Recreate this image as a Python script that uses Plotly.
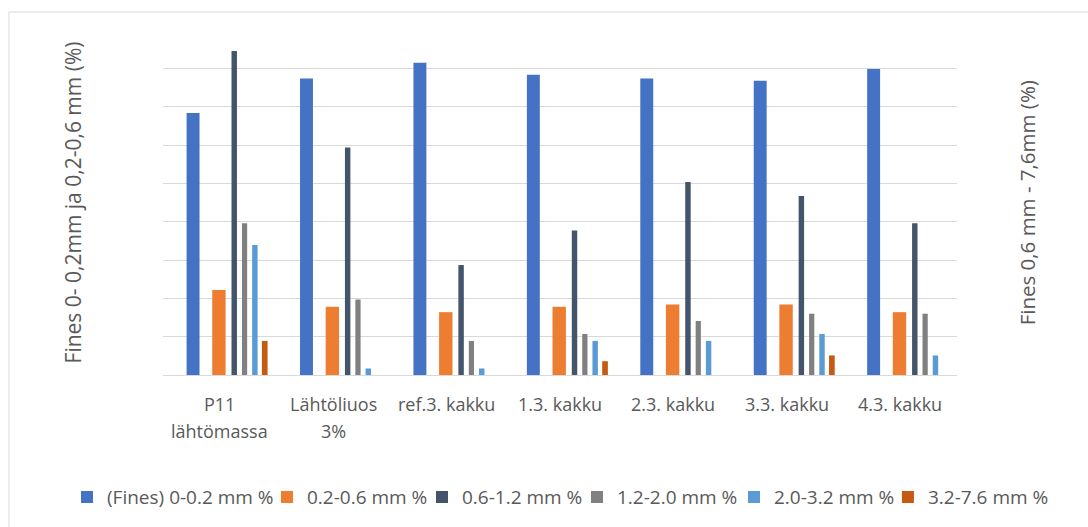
import plotly.graph_objects as go

# Sample categories (line breaks mark two-line labels)
categories = ["P11<br>lähtömassa", "Lähtöliuos<br>3%", "ref.3. kakku", "1.3. kakku",
              "2.3. kakku", "3.3. kakku", "4.3. kakku"]

# Primary axis: fines and 0.2-0.6 mm fraction (%)
fines_0_02 = [68.4, 77.4, 81.5, 78.4, 77.4, 76.8, 79.9]
frac_02_06 = [22.2, 17.8, 16.4, 17.8, 18.4, 18.4, 16.4]

# Secondary axis: coarser fractions (%)
frac_06_12 = [8.46, 5.94, 2.87, 3.77, 5.04, 4.67, 3.96]
frac_12_20 = [3.96, 1.97, 0.89, 1.07, 1.41, 1.60, 1.60]
frac_20_32 = [3.39, 0.17, 0.17, 0.89, 0.89, 1.07, 0.51]
frac_32_76 = [0.89, 0.0, 0.0, 0.36, 0.0, 0.51, 0.0]

# name, values, axis, colour, bar offset, bar width, legend entry width, legend id
series = [
    ("(Fines) 0-0.2 mm %", fines_0_02, "y", "#4472C4", -0.292, 0.114, 155, "legend"),
    ("0.2-0.6 mm %", frac_02_06, "y", "#ED7D31", -0.066, 0.118, 110, "legend"),
    ("0.6-1.2 mm %", frac_06_12, "y2", "#44546A", 0.104, 0.048, 110, "legend"),
    ("1.2-2.0 mm %", frac_12_20, "y2", "#808080", 0.196, 0.046, 112, "legend"),
    ("2.0-3.2 mm %", frac_20_32, "y2", "#5B9BD5", 0.286, 0.048, 140, "legend"),
    ("3.2-7.6 mm %", frac_32_76, "y2", "#C55A11", 0.372, 0.050, 140, "legend2"),
]

xs = list(range(len(categories)))

fig = go.Figure()
for name, vals, axis, color, off, w, lw, leg in series:
    fig.add_trace(go.Bar(
        x=xs, y=vals, name=name, yaxis=axis,
        marker=dict(color=color, line=dict(width=0)),
        offset=off, width=w, legendwidth=lw, legend=leg,
    ))

text_color = "#595959"
font_family = "Open Sans, DejaVu Sans, sans-serif"

# Category labels, one annotation per line
annotations = []
for i, label in enumerate(categories):
    for j, line in enumerate(label.split("<br>")):
        annotations.append(dict(
            x=i, y=0, xref="x", yref="paper", yshift=-29 - 27 * j,
            text=line, showarrow=False, xanchor="center", yanchor="middle",
            font=dict(size=18, color=text_color, family=font_family),
        ))

# Axis titles
annotations.append(dict(
    x=-0.1134, y=0.5, xref="paper", yref="paper", textangle=-90,
    text="Fines 0- 0,2mm ja 0,2-0,6 mm (%)", showarrow=False,
    xanchor="center", yanchor="middle",
    font=dict(size=21, color=text_color, family=font_family),
))
annotations.append(dict(
    x=1.088, y=0.5, xref="paper", yref="paper", textangle=-90,
    text="Fines 0,6 mm - 7,6mm (%)", showarrow=False,
    xanchor="center", yanchor="middle",
    font=dict(size=20.5, color=text_color, family=font_family),
))

legend_style = dict(
    orientation="h", y=-0.354, xanchor="left", yanchor="middle",
    font=dict(size=19, color=text_color, family=font_family),
    traceorder="normal", itemwidth=30, bgcolor="rgba(0,0,0,0)",
)

fig.update_layout(
    width=1088, height=527,
    margin=dict(l=163, r=131, t=30, b=152, autoexpand=False),
    paper_bgcolor="white", plot_bgcolor="white",
    barmode="overlay",
    showlegend=True,
    legend=dict(x=-0.1209, **legend_style),
    legend2=dict(x=0.913, **legend_style),
    xaxis=dict(
        range=[-0.5, len(categories) - 0.5], showticklabels=False, ticks="",
        showgrid=False, zeroline=False, showline=False, fixedrange=True,
    ),
    yaxis=dict(
        range=[0, 90.05], dtick=10, showticklabels=False, ticks="",
        showgrid=True, gridcolor="#D9D9D9", gridwidth=1.3,
        zeroline=True, zerolinecolor="#D9D9D9", zerolinewidth=1.3, showline=False,
    ),
    yaxis2=dict(
        range=[0, 9.005], dtick=1, overlaying="y", side="right",
        showticklabels=False, ticks="", showgrid=False, zeroline=False, showline=False,
    ),
    annotations=annotations,
    shapes=[dict(
        type="rect", xref="paper", yref="paper",
        x0=-0.194, x1=1.2, y0=-0.5, y1=1.0522,
        line=dict(color="#D9D9D9", width=1), fillcolor="rgba(0,0,0,0)", layer="below",
    )],
)

fig.write_html("out.html")
